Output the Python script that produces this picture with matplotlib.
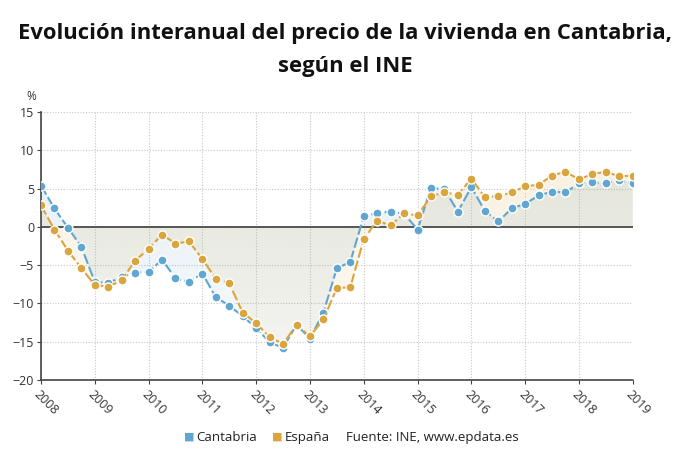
import numpy as np
import matplotlib
matplotlib.use("Agg")
import matplotlib.pyplot as plt
from matplotlib.path import Path

# datos trimestrales 2008T1 - 2019T1 (variación interanual, %)
years = [2008, 2009, 2010, 2011, 2012, 2013, 2014, 2015, 2016, 2017, 2018, 2019]
cantabria = [5.4, 2.4, -0.1, -2.6, -7.2, -7.3, -6.6, -6.0, -5.9, -4.3, -6.7, -7.2,
             -6.1, -9.2, -10.3, -11.7, -13.2, -15.1, -15.8, -12.8, -14.6, -11.2, -5.4, -4.6,
             1.4, 1.8, 2.0, 1.7, -0.35, 5.1, 4.9, 2.0, 5.2, 2.1, 0.7, 2.4,
             3.0, 4.1, 4.6, 4.5, 5.7, 5.8, 5.7, 6.1, 5.7]
espana = [2.8, -0.35, -3.1, -5.4, -7.6, -7.8, -7.0, -4.4, -2.9, -1.0, -2.2, -1.9,
          -4.2, -6.8, -7.4, -11.2, -12.6, -14.4, -15.3, -12.8, -14.3, -12.1, -8.0, -7.9,
          -1.6, 0.8, 0.2, 1.75, 1.5, 4.0, 4.5, 4.2, 6.3, 3.9, 4.0, 4.5,
          5.3, 5.5, 6.7, 7.2, 6.2, 6.9, 7.2, 6.6, 6.7]
series_names = ["Cantabria", "España"]
series_colors = ["#5fa6d1", "#dba53e"]

x = years[0] + np.arange(len(cantabria)) / 4.0

plt.rcParams['font.family'] = ['Open Sans', 'DejaVu Sans']

fig = plt.figure(figsize=(6.9, 4.65), dpi=100)
ax = fig.add_axes([0.0594, 0.183, 0.8576, 0.576])

# relleno de área con degradado (cada serie hasta 0)
for vals, col in zip([cantabria, espana], series_colors):
    poly = ax.fill_between(x, 0, vals, color='none', lw=0)
    path = Path.make_compound_path(*poly.get_paths())
    rgb = matplotlib.colors.to_rgb(col)
    grad = np.zeros((200, 2, 4))
    grad[:, :, 0] = rgb[0]
    grad[:, :, 1] = rgb[1]
    grad[:, :, 2] = rgb[2]
    grad[:, :, 3] = np.linspace(0.04, 0.19, 200)[:, None]
    im = ax.imshow(grad, extent=[2008, 2019, 15, -20], aspect='auto',
                   origin='upper', zorder=1, interpolation='bilinear')
    im.set_clip_path(path, transform=ax.transData)
ax.set_xlim(2008, 2019)
ax.set_ylim(-20, 15)

# rejilla
ax.set_xticks(years)
ax.set_yticks(np.arange(-20, 16, 5))
ax.grid(True, color='#c8c8c8', linestyle=(0, (1, 1.5)), linewidth=0.8, zorder=0)
ax.set_axisbelow(True)
ax.axhline(0, color='#555555', linewidth=1.4, zorder=2)

for vals, col in zip([cantabria, espana], series_colors):
    ax.plot(x, vals, color=col, linewidth=1.5, linestyle=(0, (5, 1.5)),
            marker='o', markersize=6.5, markerfacecolor=col,
            markeredgecolor='white', markeredgewidth=1.0, zorder=3)

for s in ['top', 'right']:
    ax.spines[s].set_visible(False)
ax.spines['left'].set_color('#444444')
ax.spines['left'].set_linewidth(1.2)
ax.spines['bottom'].set_color('#444444')
ax.spines['bottom'].set_linestyle((0, (1, 1)))
ax.spines['bottom'].set_linewidth(1.2)

ax.tick_params(axis='y', length=3, color='#444444', labelsize=9, labelcolor='#333333', pad=2)
ax.tick_params(axis='x', length=3, color='#444444', labelsize=9, labelcolor='#333333', pad=3)
ax.set_xticklabels([str(y) for y in years], rotation=-45, ha='left', va='top',
                   rotation_mode='anchor')

fig.text(0.038, 0.792, "%", fontsize=8.5, color='#333333', ha='left', va='center')

fig.text(0.5, 0.927, "Evolución interanual del precio de la vivienda en Cantabria,",
         ha='center', va='center', fontsize=15.8, fontweight='bold', color='#111111')
fig.text(0.5, 0.858, "según el INE", ha='center', va='center',
         fontsize=15.8, fontweight='bold', color='#111111')

# leyenda inferior
ly = 0.06
fig.text(0.266, ly, "■", color=series_colors[0], fontsize=8, ha='left', va='center',
         family=['DejaVu Sans'])
fig.text(0.285, ly, series_names[0], fontsize=9.5, color='#222222', ha='left', va='center')
fig.text(0.394, ly, "■", color=series_colors[1], fontsize=8, ha='left', va='center',
         family=['DejaVu Sans'])
fig.text(0.413, ly, series_names[1], fontsize=9.5, color='#222222', ha='left', va='center')
fig.text(0.502, ly, "Fuente: INE, www.epdata.es", fontsize=9.5, color='#222222',
         ha='left', va='center')

fig.savefig("out.png", dpi=100)
